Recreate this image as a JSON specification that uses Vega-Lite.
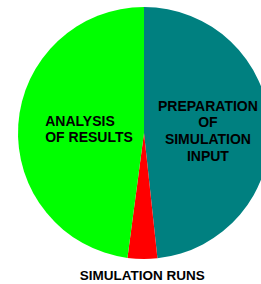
{
  "$schema": "https://vega.github.io/schema/vega-lite/v6.json",
  "width": 234,
  "height": 266,
  "autosize": "none",
  "padding": {"left": 27, "top": 0, "right": 0, "bottom": 18},
  "background": "white",
  "data": {"values": [
    {"task": "PREPARATION OF SIMULATION INPUT", "label": "PREPARATION\nOF\nSIMULATION\nINPUT", "share": 48.3, "order": 1},
    {"task": "SIMULATION RUNS", "label": "SIMULATION RUNS", "share": 3.8, "order": 2},
    {"task": "ANALYSIS OF RESULTS", "label": "ANALYSIS\nOF RESULTS", "share": 47.9, "order": 3}
  ]},
  "encoding": {
    "theta": {"field": "share", "type": "quantitative", "stack": true},
    "order": {"field": "order", "type": "quantitative"}
  },
  "layer": [
    {
      "mark": {"type": "arc", "outerRadius": 126},
      "encoding": {
        "color": {
          "field": "task", "type": "nominal",
          "scale": {"domain": ["PREPARATION OF SIMULATION INPUT", "SIMULATION RUNS", "ANALYSIS OF RESULTS"], "range": ["#008080", "#ff0000", "#00ff00"]},
          "legend": null
        }
      }
    },
    {
      "mark": {"type": "text", "radius": 64, "dy": -23, "font": "Liberation Sans", "fontWeight": "bold", "fontSize": 14, "lineBreak": "\n", "lineHeight": 16.7, "align": "center", "baseline": "middle", "color": "black"},
      "encoding": {"text": {"condition": {"test": "datum.order == 1", "field": "label"}, "value": ""}}
    },
    {
      "mark": {"type": "text", "radius": 99, "dy": -4, "font": "Liberation Sans", "fontWeight": "bold", "fontSize": 14, "lineBreak": "\n", "lineHeight": 16, "align": "left", "baseline": "middle", "color": "black"},
      "encoding": {"text": {"condition": {"test": "datum.order == 3", "field": "label"}, "value": ""}}
    },
    {
      "mark": {"type": "text", "radius": 143, "font": "Liberation Sans", "fontWeight": "bold", "fontSize": 13.5, "align": "center", "baseline": "middle", "color": "black"},
      "encoding": {"text": {"condition": {"test": "datum.order == 2", "field": "label"}, "value": ""}}
    }
  ],
  "config": {"view": {"stroke": null}}
}
